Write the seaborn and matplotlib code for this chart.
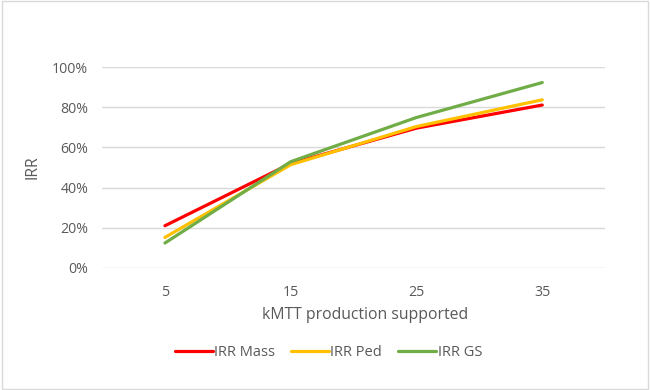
import pandas as pd
import matplotlib.pyplot as plt
import seaborn as sns
from matplotlib.ticker import PercentFormatter

# Data
production = ["5", "15", "25", "35"]
irr_mass = [0.21, 0.52, 0.696, 0.811]
irr_ped = [0.152, 0.514, 0.704, 0.837]
irr_gs = [0.124, 0.529, 0.749, 0.923]

df = pd.DataFrame({
    "production": production * 3,
    "irr": irr_mass + irr_ped + irr_gs,
    "series": ["IRR Mass"] * 4 + ["IRR Ped"] * 4 + ["IRR GS"] * 4,
})

sns.set_style("white")
plt.rcParams["font.family"] = ["Open Sans", "DejaVu Sans"]
text_color = "#595959"

fig = plt.figure(figsize=(6.5, 3.9), dpi=100)
ax = fig.add_axes([0.157, 0.313, 0.774, 0.515])

palette = {"IRR Mass": "#FF0000", "IRR Ped": "#FFC000", "IRR GS": "#70AD47"}
sns.lineplot(data=df, x="production", y="irr", hue="series", palette=palette,
             linewidth=2.3, ax=ax, sort=False, legend=True)

ax.set_ylim(0, 1.0)
ax.set_xlim(-0.5, 3.5)
ax.set_yticks([0, 0.2, 0.4, 0.6, 0.8, 1.0])
ax.yaxis.set_major_formatter(PercentFormatter(1.0, decimals=0))
ax.grid(axis="y", color="#D9D9D9", linewidth=1)
ax.set_axisbelow(True)
for s in ["top", "right", "left", "bottom"]:
    ax.spines[s].set_visible(False)
ax.tick_params(axis="both", length=0, labelsize=10.2, labelcolor=text_color)
ax.tick_params(axis="x", pad=12)
ax.tick_params(axis="y", pad=10)

ax.set_xlabel("kMTT production supported", fontsize=11.3, color=text_color)
ax.xaxis.set_label_coords(0.523, -0.195)
ax.set_ylabel("IRR", fontsize=11.3, color=text_color, labelpad=8)

handles, labels = ax.get_legend_handles_labels()
ax.get_legend().remove()
fig.legend(handles, labels, loc="center", bbox_to_anchor=(0.505, 0.095),
           ncol=3, frameon=False, fontsize=10.5, labelcolor=text_color,
           handlelength=2.6, handletextpad=0.1, columnspacing=1.1)

# light border around the chart area
fig.patches.append(plt.Rectangle((0.003, 0.003), 0.994, 0.994, transform=fig.transFigure,
                                 fill=False, edgecolor="#D9D9D9", linewidth=1))

plt.savefig("out.png", dpi=100)
